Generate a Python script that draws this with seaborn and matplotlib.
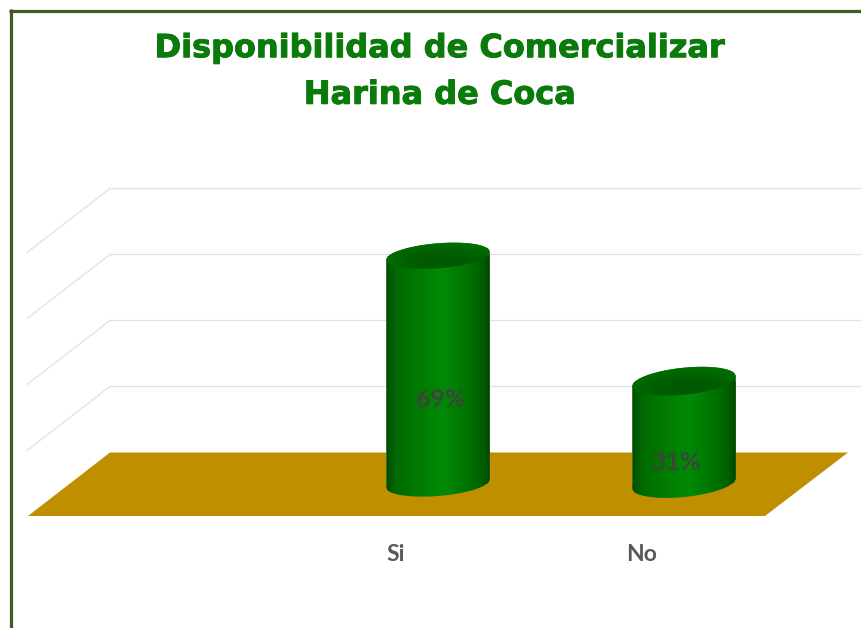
import numpy as np
import pandas as pd
import matplotlib
matplotlib.use("Agg")
import matplotlib.pyplot as plt
import matplotlib.patheffects as pe
import seaborn as sns
from matplotlib.colors import LinearSegmentedColormap
from matplotlib.lines import Line2D
from matplotlib.patches import PathPatch, Polygon
from matplotlib.path import Path
from matplotlib.transforms import ScaledTranslation

# Survey results
respuestas = ["Si", "No"]
porcentajes = [69, 31]
titulo = "Disponibilidad de Comercializar\nHarina de Coca"
niveles_rejilla = [20, 40, 60, 80]

W, H = 861, 628
DPI = 100
BAR_SPACING = 246          # pixels between categories
UNIT = 3.3                 # pixels per percentage point
BASE_Y = 483.5             # pixel row of the value zero
AXES_BOTTOM = 516
FIRST_BAR_X = 438


def col(px):
    return (px - FIRST_BAR_X) / BAR_SPACING


def val(py):
    return (BASE_Y - py) / UNIT


sns.set_theme(style="white")
fig = plt.figure(figsize=(W / DPI, H / DPI), dpi=DPI, facecolor="white")
ax = fig.add_axes([0, 1 - AXES_BOTTOM / H, 1, AXES_BOTTOM / H])

df = pd.DataFrame({"respuesta": respuestas, "porcentaje": porcentajes})
sns.barplot(data=df, x="respuesta", y="porcentaje", order=respuestas,
            color="#007c00", saturation=1, width=103.5 / BAR_SPACING, ax=ax, zorder=3)

# Back wall gridlines with their receding side lines
BACK_RISE = 31 / UNIT
for nivel in niveles_rejilla:
    y = nivel + BACK_RISE
    ax.plot([col(861), col(110), col(27)], [y, y, y - 64 / UNIT],
            color="#e2e2e2", lw=0.95, zorder=1, solid_joinstyle="miter")

# Floor of the 3D scene
ax.add_patch(Polygon([(col(28), val(516)), (col(110), val(452.5)),
                      (col(848), val(452.5)), (col(765), val(516))],
                     closed=True, facecolor="#bf8f00", edgecolor="none", zorder=2))

body_cmap = LinearSegmentedColormap.from_list(
    "cuerpo", [(0, "#004c00"), (.1, "#006a00"), (.3, "#007a00"), (.55, "#008a06"),
               (.82, "#007000"), (.95, "#005a00"), (1, "#004400")])
cap_cmap = LinearSegmentedColormap.from_list("tapa", ["#005600", "#005e00", "#007200"])

# Per-cylinder ellipse shape, in pixels: tilt at the rim ends and half height
rim_rise = [4.0, 5.0]
rim_half = [12.5, 13.5]

u = np.linspace(-1, 1, 121)
for patch, rise, half in zip(ax.patches[:len(respuestas)], rim_rise, rim_half):
    x0, w, top = patch.get_x(), patch.get_width(), patch.get_height()
    cx, hw = x0 + w / 2, w / 2
    xs = cx + hw * u
    tilt = rise * u / UNIT
    bow = (half / UNIT) * np.sqrt(1 - u ** 2)

    outline = np.column_stack([
        np.r_[xs, xs[::-1]],
        np.r_[tilt - bow, (top + tilt + bow)[::-1]],
    ])
    body = Path(np.vstack([outline, outline[0]]), closed=True)
    patch.set_clip_path(PathPatch(body, transform=ax.transData))

    shade = np.linspace(0, 1, 256)[None, :]
    img = ax.imshow(shade, cmap=body_cmap, extent=[x0, x0 + w, -10, top + 10],
                    aspect="auto", zorder=4, interpolation="bilinear")
    img.set_clip_path(PathPatch(body, transform=ax.transData))

    cap_outline = np.column_stack([
        np.r_[xs, xs[::-1]],
        np.r_[top + tilt - bow, (top + tilt + bow)[::-1]],
    ])
    cap = Path(np.vstack([cap_outline, cap_outline[0]]), closed=True)
    yy, xx = np.mgrid[-1:1:80j, -1:1:160j]
    rad = np.clip(np.hypot(xx - 0.1, yy + 0.4) / 1.3, 0, 1)
    ylo, yhi = top - (rise + half) / UNIT, top + (rise + half) / UNIT
    img_cap = ax.imshow(rad, cmap=cap_cmap, extent=[x0, x0 + w, ylo, yhi], origin="lower",
                        aspect="auto", zorder=5, interpolation="bilinear")
    img_cap.set_clip_path(PathPatch(cap, transform=ax.transData))

# Value labels sit low on each cylinder
label_shift = [(3, -30), (-8, -30)]
for i, (valor, (dx, dy)) in enumerate(zip(porcentajes, label_shift)):
    ax.annotate(f"{valor}%", (i, valor / 2), xytext=(dx * 72 / DPI, dy * 72 / DPI),
                textcoords="offset points", ha="center", va="center",
                fontsize=18, fontfamily="Lato", fontweight="bold",
                color="#3a463a", zorder=6)

ax.set_xlim(col(0), col(W))
ax.set_ylim(val(AXES_BOTTOM), val(0))
ax.set_xlabel("")
ax.set_ylabel("")
ax.set_yticks([])
ax.set_xticks(range(len(respuestas)), respuestas)
ax.tick_params(axis="x", length=0, pad=20)
sns.despine(ax=ax, left=True, bottom=True)
ax.patch.set_alpha(0)

# Category labels are placed at the front edge of the floor
shift = ScaledTranslation(-42 / DPI, 0, fig.dpi_scale_trans)
for lbl in ax.get_xticklabels():
    lbl.set_transform(lbl.get_transform() + shift)
    lbl.set_fontfamily("Lato")
    lbl.set_fontweight("bold")
    lbl.set_fontsize(16.5)
    lbl.set_color("#595959")

title_text = fig.text(440 / W, 1 - 72 / H, titulo, ha="center", va="center", fontsize=23,
                      fontfamily="DejaVu Sans", fontweight="bold", color="#0a7a0a",
                      linespacing=1.65)
title_text.set_path_effects([pe.withStroke(linewidth=0.7, foreground="#0a7a0a")])

# Frame along the top and left edges
frame = "#3f5a24"
fig.add_artist(Line2D([10.5 / W, 10.5 / W], [0, 1 - 9 / H], color=frame, lw=2.3, solid_capstyle="butt"))
fig.add_artist(Line2D([9 / W, 1], [1 - 10.5 / H, 1 - 10.5 / H], color=frame, lw=2.3, solid_capstyle="butt"))

fig.savefig("out.png", dpi=DPI, facecolor="white")
